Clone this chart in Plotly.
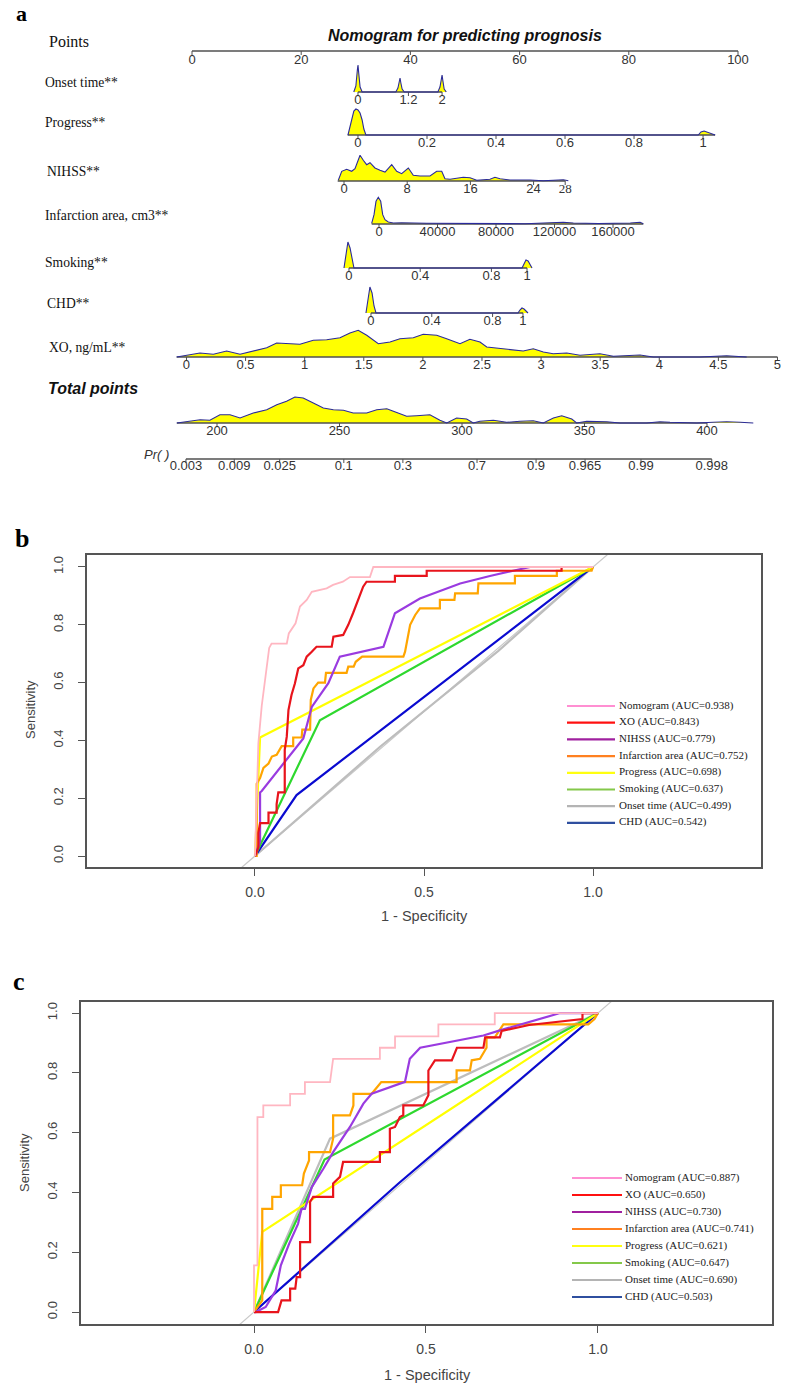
import numpy as np
import plotly.graph_objects as go

W, H = 789, 1388
SANS = "Liberation Sans, Arial, sans-serif"
SERIF = "Liberation Serif, Times New Roman, serif"

# =====================  (a) Nomogram data  =====================
points_ticks = [0, 20, 40, 60, 80, 100]

onset_ticks = [0, 1.2, 2]
onset_labels = ["0", "1.2", "2"]
onset_scale = ([0, 2], [30.4, 45.8])          # value -> points
onset_line = [0, 2]
onset_dens_x = [-0.1, -0.05, -0.015, 0.0, 0.02, 0.05, 0.1,
                0.9, 0.95, 0.985, 1.0, 1.02, 1.05, 1.1,
                1.9, 1.95, 1.985, 2.0, 2.02, 2.05, 2.1]
onset_dens_h = [0, 6, 22, 27, 18, 5, 0,
                0, 4, 11, 14, 9, 3, 0,
                0, 5, 13, 17, 11, 3, 0]

progress_ticks = [0, 0.2, 0.4, 0.6, 0.8, 1]
progress_labels = ["0", "0.2", "0.4", "0.6", "0.8", "1"]
progress_scale = ([0, 1], [30.4, 93.6])
progress_line = [-0.03, 1.035]
progress_dens_x = [-0.029, -0.023, -0.017, -0.012, -0.006, 0.0, 0.006, 0.012, 0.017, 0.023,
                   0.986, 0.994, 1.003, 1.012, 1.026, 1.035]
progress_dens_h = [0, 8, 18, 24, 26, 25, 22, 15, 6, 0,
                   0, 3, 4, 3, 1, 0]

nihss_ticks = [0, 8, 16, 24, 28]
nihss_labels = ["0", "8", "16", "24", "28"]
nihss_scale = ([0, 28], [27.84, 68.35])
nihss_line = [-0.8, 28]
nihss_dens_x = [-0.72, -0.29, 0.34, 0.97, 1.39, 2.03, 2.44, 2.87, 3.29, 3.92,
                4.56, 5.19, 6.04, 6.67, 7.3, 8.14, 8.77, 9.62, 10.89, 11.73,
                12.37, 12.78, 13.42, 14.27, 15.1, 15.95, 16.8, 18.48, 19.11, 19.75,
                21.01, 23.54, 25.23, 27.76, 28.4]
nihss_dens_h = [0.7, 9.7, 11.7, 9.7, 12.3, 25.7, 20.7, 16.3, 18.3, 13,
                10.7, 9, 16.3, 9.7, 7.3, 13, 5.7, 5, 5, 9.7,
                9.7, 2.3, 1.7, 3, 3.7, 3.3, 0.7, 1.7, 3.7, 2.3,
                1, 1, 0.3, 1.3, 0.3]

infarct_ticks = [0, 40000, 80000, 120000, 160000]
infarct_labels = ["0", "40000", "80000", "120000", "160000"]
infarct_scale = ([0, 160000], [34.25, 77.11])
infarct_line = [-5000, 180700]
infarct_dens_x = [-5000, -3400, -2050, -480, 1160, 2530, 4100, 6360, 9780, 15500,
                  32600, 60000, 100000, 116900, 126000, 132900, 150000, 171800, 178500, 180700]
infarct_dens_h = [0.7, 9.3, 22.7, 26.7, 22.7, 9.3, 4.3, 2, 1, 1.3,
                  0.7, 0.3, 0.3, 1.3, 1.7, 1, 0.5, 1, 1.7, 0.3]

smoking_ticks = [0, 0.4, 0.8, 1]
smoking_labels = ["0", "0.4", "0.8", "1"]
smoking_scale = ([0, 1], [28.75, 61.36])
smoking_line = [0, 1]
smoking_dens_x = [-0.028, -0.017, -0.006, 0.006, 0.017, 0.028,
                  0.972, 0.983, 0.994, 1.006, 1.017, 1.028]
smoking_dens_h = [0, 12, 26, 20, 8, 0,
                  0, 5, 8, 7, 3, 0]

chd_ticks = [0, 0.4, 0.8, 1]
chd_labels = ["0", "0.4", "0.8", "1"]
chd_scale = ([0, 1], [32.78, 60.62])
chd_line = [0, 1]
chd_dens_x = [-0.033, -0.02, -0.007, 0.007, 0.02, 0.033,
              0.967, 0.98, 0.993, 1.007, 1.02, 1.033]
chd_dens_h = [0, 12, 26, 20, 7, 0,
              0, 3, 5, 4, 2, 0]

xo_ticks = [0, 0.5, 1, 1.5, 2, 2.5, 3, 3.5, 4, 4.5, 5]
xo_labels = ["0", "0.5", "1", "1.5", "2", "2.5", "3", "3.5", "4", "4.5", "5"]
xo_scale = ([0, 5], [-1.01, 107.23])
xo_line = [-0.083, 5]
xo_dens_x = [-0.083, 0.002, 0.114, 0.227, 0.34, 0.453, 0.565, 0.679, 0.763, 0.876,
             0.96, 1.073, 1.186, 1.299, 1.383, 1.453, 1.525, 1.623, 1.722, 1.806,
             1.919, 2.003, 2.117, 2.201, 2.314, 2.398, 2.483, 2.54, 2.652, 2.765,
             2.849, 2.934, 3.019, 3.103, 3.217, 3.329, 3.442, 3.498, 3.611, 3.78,
             3.837, 3.949, 4.175, 4.344, 4.57, 4.683, 4.739]
xo_dens_h = [0, 1.7, 4, 2.7, 6, 2.7, 6, 9.3, 14, 13.3,
             12.7, 16.7, 17.3, 19.3, 24, 26.7, 21.7, 13.3, 15, 18.3,
             19.3, 22.7, 21.7, 18.3, 13.3, 17.7, 15, 10, 8.3, 6.7,
             6, 8.3, 5, 3.3, 4, 1.7, 2.3, 3.3, 0.7, 1.7,
             2, 0, 0, 0, 1.3, 0.7, 0]

total_ticks = [200, 250, 300, 350, 400]
total_labels = ["200", "250", "300", "350", "400"]
total_scale = ([200, 400], [4.58, 94.32])
total_line = [183.6, 400]
total_dens_x = [183.6, 187.6, 193.1, 197.1, 201.2, 205.3, 209.4, 214.8, 220.3, 224.4,
                228.4, 231.8, 235.2, 239.3, 243.4, 247.5, 251.6, 255.6, 261.1, 265.2,
                269.3, 272, 277.4, 281.5, 286.9, 291, 293.8, 297.8, 301.9, 304.6,
                307.3, 312.8, 318.2, 323.7, 329.1, 333.2, 337.3, 340.7, 344.8, 346.8,
                350.9, 359.1, 364.5, 375.4, 380.8, 384.9, 395.8, 402.6, 408, 413.5,
                418.9]
total_dens_h = [0, 1.7, 3.3, 2.7, 8.3, 8.3, 5, 10, 13.3, 18.3,
                21.7, 26, 25, 20, 15, 13.3, 12.7, 10, 10, 13.3,
                14.3, 11.7, 6.7, 7.3, 8.3, 2.7, 0, 5, 4, 0,
                1.7, 2.7, 0.7, 1.7, 2.3, 0, 5, 7.3, 4, 0,
                1.7, 1.3, 0, 0, 1.3, 0.7, 0, 0.7, 1.3, 0.7,
                0]

pr_ticks = [0.003, 0.009, 0.025, 0.1, 0.3, 0.7, 0.9, 0.965, 0.99, 0.998]
pr_labels = ["0.003", "0.009", "0.025", "0.1", "0.3", "0.7", "0.9", "0.965", "0.99", "0.998"]
pr_model = (291.0, 0.056)   # total points at p=0.5, slope of logit per point

row_names = ["Onset time**", "Progress**", "NIHSS**", "Infarction area, cm3**",
             "Smoking**", "CHD**", "XO, ng/mL**"]

# =====================  (b)/(c) ROC data  =====================
model_names = ["Nomogram", "XO", "NIHSS", "Infarction area", "Progress",
               "Smoking", "Onset time", "CHD"]
b_auc = ["0.938", "0.843", "0.779", "0.752", "0.698", "0.637", "0.499", "0.542"]
c_auc = ["0.887", "0.650", "0.730", "0.741", "0.621", "0.647", "0.690", "0.503"]

b_nomogram_fpr = [0, 0.005, 0.01, 0.02, 0.03, 0.035, 0.042, 0.049, 0.094, 0.10, 0.12, 0.133,
                  0.153, 0.168, 0.212, 0.231, 0.26, 0.281, 0.34, 0.35, 1.0]
b_nomogram_tpr = [0, 0.25, 0.39, 0.52, 0.62, 0.67, 0.72, 0.735, 0.735, 0.77, 0.805, 0.863,
                  0.886, 0.914, 0.926, 0.938, 0.949, 0.965, 0.965, 1.0, 1.0]
b_xo_fpr = [0, 0.01, 0.01, 0.015, 0.04, 0.04, 0.064, 0.064, 0.069, 0.088,
            0.088, 0.094, 0.099, 0.108, 0.118, 0.128, 0.143, 0.153, 0.168, 0.182,
            0.227, 0.232, 0.261, 0.276, 0.29, 0.306, 0.32, 0.33, 0.414, 0.414,
            0.508, 0.508, 0.907, 0.907, 1.0]
b_xo_tpr = [0, 0.03, 0.08, 0.114, 0.114, 0.15, 0.15, 0.18, 0.22, 0.22,
            0.367, 0.413, 0.505, 0.557, 0.597, 0.649, 0.66, 0.69, 0.707, 0.724,
            0.724, 0.759, 0.765, 0.8, 0.84, 0.886, 0.932, 0.949, 0.949, 0.969,
            0.969, 0.987, 0.987, 1.0, 1.0]
b_nihss_fpr = [0, 0.015, 0.015, 0.02, 0.143, 0.168, 0.217, 0.251, 0.38, 0.414, 0.488, 0.607,
               0.695, 0.814, 1.0]
b_nihss_tpr = [0, 0.05, 0.22, 0.225, 0.407, 0.516, 0.598, 0.69, 0.724, 0.84, 0.891, 0.943,
               0.969, 1.0, 1.0]
b_infarct_fpr = [0, 0.005, 0.005, 0.015, 0.025, 0.04, 0.05, 0.064, 0.079, 0.113,
                 0.113, 0.138, 0.14, 0.163, 0.165, 0.173, 0.187, 0.207, 0.21, 0.271,
                 0.276, 0.292, 0.298, 0.317, 0.439, 0.444, 0.459, 0.474, 0.488, 0.547,
                 0.547, 0.59, 0.592, 0.659, 0.661, 0.769, 0.769, 0.893, 0.893, 0.996, 1.0]
b_infarct_tpr = [0, 0, 0.25, 0.27, 0.305, 0.32, 0.344, 0.35, 0.38, 0.38,
                 0.41, 0.41, 0.437, 0.437, 0.54, 0.58, 0.6, 0.6, 0.634, 0.634,
                 0.655, 0.655, 0.672, 0.69, 0.69, 0.707, 0.8, 0.834, 0.857, 0.857,
                 0.886, 0.886, 0.909, 0.909, 0.943, 0.943, 0.969, 0.969, 0.987, 0.987, 1.0]
b_progress_fpr = [0, 0.015, 1.0]
b_progress_tpr = [0, 0.41, 1.0]
b_smoking_fpr = [0, 0.192, 1.0]
b_smoking_tpr = [0, 0.47, 1.0]
b_onset_fpr = [0, 0.37, 0.72, 1.0]
b_onset_tpr = [0, 0.378, 0.71, 1.0]
b_chd_fpr = [0, 0.123, 1.0]
b_chd_tpr = [0, 0.211, 1.0]

c_nomogram_fpr = [0, 0, 0.01, 0.01, 0.027, 0.027, 0.105, 0.105, 0.148, 0.148, 0.221,
                  0.226, 0.23, 0.366, 0.366, 0.41, 0.41, 0.536, 0.536, 0.70, 0.70, 1.0]
c_nomogram_tpr = [0, 0.156, 0.156, 0.652, 0.652, 0.691, 0.691, 0.73, 0.73, 0.769, 0.769,
                  0.808, 0.847, 0.847, 0.884, 0.884, 0.922, 0.922, 0.962, 0.962, 1.0, 1.0]
c_xo_fpr = [0, 0.07, 0.08, 0.105, 0.105, 0.12, 0.124, 0.134, 0.134, 0.163,
            0.163, 0.172, 0.23, 0.23, 0.25, 0.259, 0.366, 0.366, 0.395, 0.395,
            0.41, 0.424, 0.434, 0.434, 0.492, 0.507, 0.507, 0.526, 0.575, 0.59,
            0.667, 0.672, 0.715, 0.72, 0.80, 0.955, 0.955, 1.0]
c_xo_tpr = [0, 0, 0.039, 0.039, 0.078, 0.078, 0.117, 0.117, 0.234, 0.234,
            0.368, 0.385, 0.385, 0.43, 0.452, 0.502, 0.502, 0.535, 0.535, 0.613,
            0.619, 0.652, 0.658, 0.691, 0.691, 0.725, 0.808, 0.842, 0.842, 0.884,
            0.884, 0.919, 0.919, 0.94, 0.96, 0.98, 1.0, 1.0]
c_nihss_fpr = [0, 0.005, 0.034, 0.063, 0.078, 0.102, 0.128, 0.138, 0.148, 0.168, 0.202,
               0.23, 0.279, 0.318, 0.342, 0.424, 0.439, 0.453, 0.483, 0.667, 0.715, 0.89, 1.0]
c_nihss_tpr = [0, 0.0, 0.017, 0.072, 0.156, 0.228, 0.295, 0.345, 0.345, 0.418, 0.48,
               0.535, 0.619, 0.697, 0.73, 0.764, 0.77, 0.847, 0.884, 0.925, 0.942, 1.0, 1.0]
c_infarct_fpr = [0, 0.024, 0.024, 0.053, 0.053, 0.078, 0.078, 0.14, 0.145, 0.16,
                 0.16, 0.221, 0.23, 0.23, 0.279, 0.289, 0.289, 0.342, 0.37, 0.589,
                 0.589, 0.628, 0.633, 0.657, 0.676, 0.676, 0.70, 0.725, 0.972, 0.99, 1.0]
c_infarct_tpr = [0, 0.039, 0.345, 0.345, 0.385, 0.385, 0.424, 0.424, 0.463, 0.507,
                 0.535, 0.535, 0.58, 0.658, 0.658, 0.691, 0.73, 0.73, 0.769, 0.769,
                 0.808, 0.808, 0.842, 0.847, 0.884, 0.919, 0.919, 0.962, 0.962, 0.98, 1.0]
c_progress_fpr = [0, 0.024, 1.0]
c_progress_tpr = [0, 0.268, 1.0]
c_smoking_fpr = [0, 0.205, 1.0]
c_smoking_tpr = [0, 0.51, 1.0]
c_onset_fpr = [0, 0.221, 1.0]
c_onset_tpr = [0, 0.58, 1.0]
c_chd_fpr = [0, 0.42, 1.0]
c_chd_tpr = [0, 0.43, 1.0]

curve_colors = ["#ffb6c1", "#e8141c", "#9a3be0", "#ffa500", "#ffff00", "#2ed82e", "#bdbdbd", "#0a0ad0"]
legend_colors = ["#ff8fd2", "#ff1010", "#a0209f", "#ff8020", "#ffff10", "#84c84a", "#b4b4b4", "#2f4f9f"]

# =====================  build figure  =====================
fig = go.Figure()

PX0, PX_PER_PT = 192.0, 5.46           # points axis: 0 at x=192px, 5.46 px per point
A_TOP, A_H = 0, 480                    # panel a occupies y 0..480 px


def to_pts(v, scale):
    vals, pts = scale
    v = np.asarray(v, dtype=float)
    return pts[0] + (v - vals[0]) * (pts[1] - pts[0]) / (vals[1] - vals[0])


AXIS_COL = "#505050"
TICK_FONT = dict(family=SANS, size=13, color="#333333")


def add_scale(xs_pts, base, labels, families=None, line_x=None, label_dy=9):
    if line_x is not None:
        fig.add_trace(go.Scatter(x=line_x, y=[base, base], mode="lines",
                                 line=dict(color=AXIS_COL, width=1.3),
                                 hoverinfo="skip", showlegend=False, xaxis="x", yaxis="y"))
    tx, ty = [], []
    for p in xs_pts:
        tx += [p, p, None]
        ty += [base, base + 4, None]
    fig.add_trace(go.Scatter(x=tx, y=ty, mode="lines", line=dict(color=AXIS_COL, width=1),
                             hoverinfo="skip", showlegend=False, xaxis="x", yaxis="y"))
    font = dict(TICK_FONT)
    if families is not None:
        font["family"] = families
    fig.add_trace(go.Scatter(x=list(xs_pts), y=[base + label_dy] * len(xs_pts), mode="text",
                             text=labels, textposition="middle center", textfont=font,
                             hoverinfo="skip", showlegend=False, xaxis="x", yaxis="y"))


def add_density(xp, hts, base):
    xp = list(np.asarray(xp, dtype=float))
    top = [base - h for h in hts]
    fig.add_trace(go.Scatter(x=xp + [xp[-1], xp[0]], y=top + [base, base], fill="toself",
                             fillcolor="#ffff00", mode="lines", line=dict(width=0),
                             hoverinfo="skip", showlegend=False, xaxis="x", yaxis="y"))
    return xp, top


def add_outline(xp, top):
    fig.add_trace(go.Scatter(x=xp, y=top, mode="lines", line=dict(color="#2a2a9c", width=1.1),
                             hoverinfo="skip", showlegend=False, xaxis="x", yaxis="y"))


rows = [
    (onset_ticks, onset_labels, onset_scale, onset_line, onset_dens_x, onset_dens_h, 92),
    (progress_ticks, progress_labels, progress_scale, progress_line, progress_dens_x, progress_dens_h, 135),
    (nihss_ticks, nihss_labels, nihss_scale, nihss_line, nihss_dens_x, nihss_dens_h, 181),
    (infarct_ticks, infarct_labels, infarct_scale, infarct_line, infarct_dens_x, infarct_dens_h, 224),
    (smoking_ticks, smoking_labels, smoking_scale, smoking_line, smoking_dens_x, smoking_dens_h, 268),
    (chd_ticks, chd_labels, chd_scale, chd_line, chd_dens_x, chd_dens_h, 313),
    (xo_ticks, xo_labels, xo_scale, xo_line, xo_dens_x, xo_dens_h, 357),
    (total_ticks, total_labels, total_scale, total_line, total_dens_x, total_dens_h, 423),
]
row_label_y = [82, 122, 171, 215, 262, 303, 347]
row_label_x = [43, 43, 45, 43, 43, 45, 47]

# Points axis
add_scale(points_ticks, 51, [str(t) for t in points_ticks], line_x=[0, 100], label_dy=10)

for i, (tk, lb, sc, ln, dx, dh, base) in enumerate(rows):
    xp, top = add_density(to_pts(dx, sc), dh, base)
    fams = [SERIF if l == "28" else SANS for l in lb]
    add_scale(to_pts(tk, sc), base, lb, families=fams, line_x=list(to_pts(ln, sc)))
    add_outline(xp, top)

# Probability scale (logistic in total points)
pr_total = pr_model[0] + np.log(np.array(pr_ticks) / (1 - np.array(pr_ticks))) / pr_model[1]
pr_pts = to_pts(pr_total, total_scale)
add_scale(pr_pts, 459, pr_labels, line_x=[pr_pts[0], pr_pts[-1]], label_dy=8)

annotations = []


def ann(text, x, y, yref="paper", size=14, family=SERIF, color="#111", xanchor="left", yanchor="middle", **kw):
    annotations.append(dict(text=text, x=x, y=y, xref="paper", yref=yref, showarrow=False,
                            xanchor=xanchor, yanchor=yanchor,
                            font=dict(size=size, family=family, color=color), **kw))


def px_x(px):
    return px / W


def px_y(py):
    return 1 - py / H


ann("<b>a</b>", px_x(14), px_y(14), size=22, family=SERIF, color="#000")
ann("<b>b</b>", px_x(13), px_y(538), size=26, family=SERIF, color="#000")
ann("<b>c</b>", px_x(11), px_y(981), size=26, family=SERIF, color="#000")

ann("<b><i>Nomogram for predicting prognosis</i></b>", px_x(465), 35, yref="y", size=16,
    family=SANS, color="#111", xanchor="center")
ann("Points", px_x(47), 41, yref="y", size=16, family=SERIF)
for name, lx, ly in zip(row_names, row_label_x, row_label_y):
    ann(name, px_x(lx), ly, yref="y", size=13.6, family=SERIF)
ann("<b><i>Total points</i></b>", px_x(46), 388, yref="y", size=16, family=SANS)
ann("<i>Pr( )</i>", px_x(142), 454, yref="y", size=13, family=SANS, color="#333")

# ---------------- ROC panels ----------------
b_curves = [(b_nomogram_fpr, b_nomogram_tpr), (b_xo_fpr, b_xo_tpr), (b_nihss_fpr, b_nihss_tpr),
            (b_infarct_fpr, b_infarct_tpr), (b_progress_fpr, b_progress_tpr),
            (b_smoking_fpr, b_smoking_tpr), (b_onset_fpr, b_onset_tpr), (b_chd_fpr, b_chd_tpr)]
c_curves = [(c_nomogram_fpr, c_nomogram_tpr), (c_xo_fpr, c_xo_tpr), (c_nihss_fpr, c_nihss_tpr),
            (c_infarct_fpr, c_infarct_tpr), (c_progress_fpr, c_progress_tpr),
            (c_smoking_fpr, c_smoking_tpr), (c_onset_fpr, c_onset_tpr), (c_chd_fpr, c_chd_tpr)]
draw_order = [6, 7, 5, 4, 3, 2, 1, 0]

for curves, xa, ya, aucs in [(b_curves, "x2", "y2", b_auc), (c_curves, "x3", "y3", c_auc)]:
    fig.add_trace(go.Scatter(x=[-0.2, 1.2], y=[-0.2, 1.2], mode="lines",
                             line=dict(color="#c8c8c8", width=1.2), hoverinfo="skip",
                             showlegend=False, xaxis=xa, yaxis=ya))
    for k in draw_order:
        fx, ty = curves[k]
        fig.add_trace(go.Scatter(x=fx, y=ty, mode="lines",
                                 name=f"{model_names[k]} (AUC={aucs[k]})",
                                 line=dict(color=curve_colors[k], width=2.2 if k else 1.8),
                                 showlegend=False, xaxis=xa, yaxis=ya))

# manual legends
shapes = []
for (lx0, lx1, tx, y0, dy, aucs) in [(567, 615, 617, 706, 16.7, b_auc), (572, 622, 623, 1178, 17.0, c_auc)]:
    for k in range(8):
        yy = y0 + k * dy
        shapes.append(dict(type="line", xref="paper", yref="paper", x0=px_x(lx0), x1=px_x(lx1),
                           y0=px_y(yy), y1=px_y(yy), line=dict(color=legend_colors[k], width=2.2)))
        ann(f"{model_names[k]} (AUC={aucs[k]})", px_x(tx), px_y(yy - 1), size=11, family=SERIF,
            color="#222")

# axis titles
ann("Sensitivity", px_x(30), px_y(710), size=13, family=SANS, color="#444", xanchor="center",
    textangle=-90)
ann("1 - Specificity", px_x(424), px_y(916), size=14.5, family=SANS, color="#444", xanchor="center")
ann("Sensitivity", px_x(24), px_y(1163), size=13, family=SANS, color="#444", xanchor="center",
    textangle=-90)
ann("1 - Specificity", px_x(427), px_y(1375), size=14.5, family=SANS, color="#444", xanchor="center")


def roc_axes(left, right, top, bottom, xr, yr, ystand):
    common = dict(showline=True, mirror=True, linecolor="#555", linewidth=1.5, ticks="outside",
                  ticklen=7, tickcolor="#555", tickwidth=1.3, showgrid=False, zeroline=False,
                  fixedrange=True)
    xa = dict(domain=[px_x(left), px_x(right)], range=xr, tickvals=[0, 0.5, 1.0],
              ticktext=["0.0", "0.5", "1.0"], tickfont=dict(family=SANS, size=14, color="#444"),
              ticklabelstandoff=4, **common)
    ya = dict(domain=[px_y(bottom), px_y(top)], range=yr, tickvals=[0, 0.2, 0.4, 0.6, 0.8, 1.0],
              ticktext=["0.0", "0.2", "0.4", "0.6", "0.8", "1.0"], tickangle=-90,
              tickfont=dict(family=SANS, size=13, color="#444"), ticklabelstandoff=ystand, **common)
    return xa, ya


xa2, ya2 = roc_axes(87, 761, 555, 867, [-0.497, 1.497], [-0.038, 1.0415], 10)
xa3, ya3 = roc_axes(81, 772, 1002, 1324, [-0.503, 1.506], [-0.040, 1.037], 10)
xa2["anchor"] = "y2"
ya2["anchor"] = "x2"
xa3["anchor"] = "y3"
ya3["anchor"] = "x3"

fig.update_layout(
    width=W, height=H, margin=dict(l=0, r=0, t=0, b=0),
    paper_bgcolor="white", plot_bgcolor="white", showlegend=False,
    xaxis=dict(domain=[0, 1], range=[(0 - PX0) / PX_PER_PT, (W - PX0) / PX_PER_PT],
               visible=False, fixedrange=True),
    yaxis=dict(domain=[px_y(A_H), px_y(A_TOP)], range=[A_H, A_TOP], visible=False, fixedrange=True),
    xaxis2=xa2, yaxis2=ya2, xaxis3=xa3, yaxis3=ya3,
    annotations=annotations, shapes=shapes,
)

fig.write_html("out.html", config={"displayModeBar": False},
               post_script="document.body.style.margin='0px';")
